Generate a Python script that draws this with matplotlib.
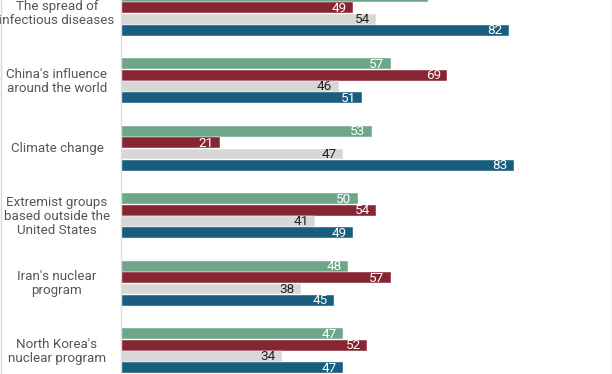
import matplotlib
matplotlib.use("Agg")
import matplotlib.pyplot as plt
from matplotlib.transforms import blended_transform_factory
from matplotlib.lines import Line2D

categories = [
    "The spread of\ninfectious diseases",
    "China's influence\naround the world",
    "Climate change",
    "Extremist groups\nbased outside the\nUnited States",
    "Iran's nuclear\nprogram",
    "North Korea's\nnuclear program",
]
series_green = [65, 57, 53, 50, 48, 47]
series_red = [49, 69, 21, 54, 57, 52]
series_gray = [54, 46, 47, 41, 38, 34]
series_blue = [82, 51, 83, 49, 45, 47]

series = [series_green, series_red, series_gray, series_blue]
colors = ["#6ea68a", "#872633", "#d7d7d7", "#195e7e"]
text_colors = ["white", "white", "#222222", "white"]

W, H = 612, 374
fig = plt.figure(figsize=(W / 100, H / 100), dpi=100)
ax_left = 121 / W
ax = fig.add_axes([ax_left, 0, 1 - ax_left - 1 / W, 1])

group_pitch = 5.92
bar_h = 0.96
for k, (vals, c, tc) in enumerate(zip(series, colors, text_colors)):
    ys = [j * group_pitch + k for j in range(len(vals))]
    ax.barh(ys, vals, height=bar_h, color=c, edgecolor="white", linewidth=0.3)
    for y, v in zip(ys, vals):
        ax.text(v - 1.35, y + 0.04, str(v), ha="right", va="center",
                color=tc, fontsize=9.7, family="Roboto")

px_per_unit = 11.4
top = 0.33
ax.set_xlim(0, 491 / 4.74)
ax.set_ylim(top + H / px_per_unit, top)
ax.set_xticks([])
ax.set_yticks([])
for s in ["top", "right", "bottom"]:
    ax.spines[s].set_visible(False)
ax.spines["left"].set_color("#dcdcdc")
ax.spines["left"].set_linewidth(1.0)

tr = blended_transform_factory(fig.transFigure, ax.transData)
for j, cat in enumerate(categories):
    ax.text(57 / W, j * group_pitch + 1.55, cat, transform=tr, ha="center",
            va="center", multialignment="center", color="#555555",
            fontsize=9.6, family="Roboto", linespacing=1.1)

fig.add_artist(Line2D([0.5 / W, 0.5 / W], [0, 1], transform=fig.transFigure,
                      color="#d8d8d8", linewidth=1.0))
fig.add_artist(Line2D([1 - 0.5 / W, 1 - 0.5 / W], [0, 1], transform=fig.transFigure,
                      color="#d8d8d8", linewidth=1.0))

fig.savefig("out.png", dpi=100)
